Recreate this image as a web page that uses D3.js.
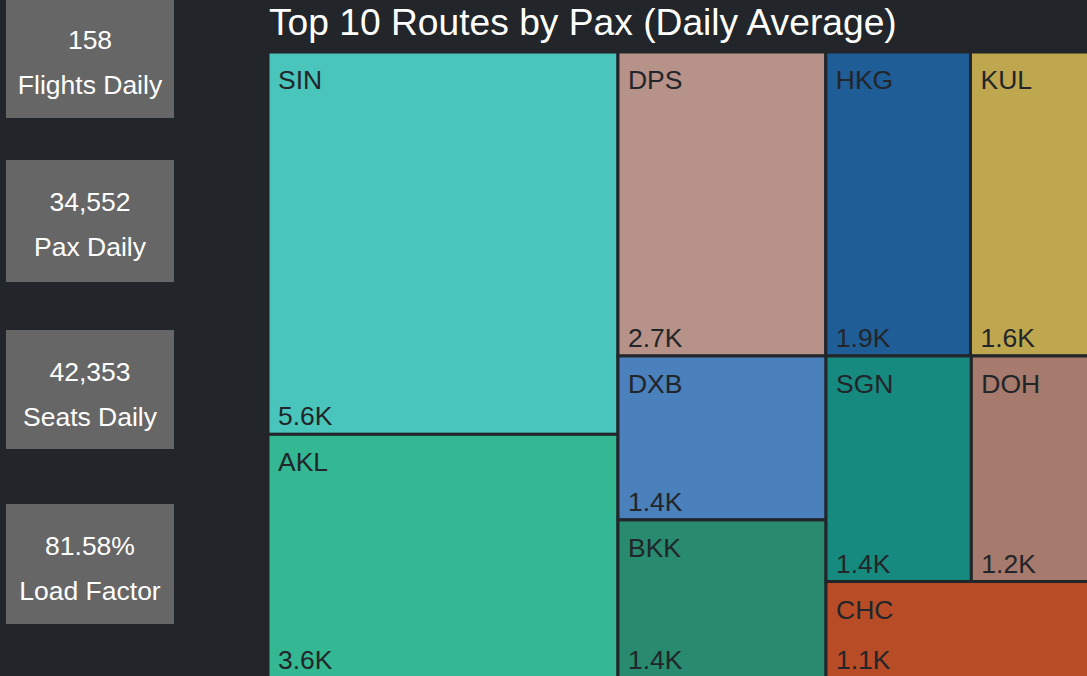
<!DOCTYPE html>
<html>
<head>
<meta charset="utf-8">
<script src="https://cdn.jsdelivr.net/npm/d3@7"></script>
<style>
  html, body { margin: 0; padding: 0; background: #222529; overflow: hidden; }
  svg { display: block; }
  text { font-family: "Liberation Sans", Arial, sans-serif; }
</style>
</head>
<body>
<svg id="chart" width="1087" height="676"></svg>
<script>
// ---- data ----
const routes = ["SIN", "AKL", "DPS", "HKG", "KUL", "DXB", "BKK", "SGN", "DOH", "CHC"];
const paxDaily = [5634, 3591, 2660, 1852, 1632, 1436, 1385, 1380, 1203, 1105];
const routeColors = ["#49C5BB", "#34B893", "#B79288", "#1F5D96", "#BFA750",
                     "#4A80BB", "#288A6E", "#178A80", "#A67A6C", "#B84C26"];
const kpiValues = ["158", "34,552", "42,353", "81.58%"];
const kpiLabels = ["Flights Daily", "Pax Daily", "Seats Daily", "Load Factor"];
const title = "Top 10 Routes by Pax (Daily Average)";

// ---- layout ----
const kpiTops = [-2, 160, 330, 504];
const kpiHeights = [120, 122, 119, 120];
const tm = { x: 268, y: 52, w: 830, h: 626 };

const svg = d3.select("#chart");
const bg = "#222529";

svg.append("rect").attr("width", 1087).attr("height", 676).attr("fill", bg);

// KPI boxes
const kpi = svg.append("g").selectAll("g")
  .data(kpiValues.map((v, i) => ({ v, l: kpiLabels[i], top: kpiTops[i], h: kpiHeights[i] })))
  .join("g")
  .attr("transform", d => `translate(6,${d.top})`);
kpi.append("rect").attr("width", 168).attr("height", d => d.h).attr("fill", "#666666");
kpi.append("text").attr("x", 84).attr("y", 51).attr("text-anchor", "middle")
  .attr("fill", "#ffffff").attr("font-size", 26.5).text(d => d.v);
kpi.append("text").attr("x", 84).attr("y", 96).attr("text-anchor", "middle")
  .attr("fill", "#ffffff").attr("font-size", 26.5).text(d => d.l);

// Title
svg.append("text").attr("x", 269).attr("y", 35).attr("fill", "#ffffff")
  .attr("font-size", 37.2).text(title);

// Treemap
const root = d3.hierarchy({ children: routes.map((r, i) => ({ name: r, value: paxDaily[i], color: routeColors[i] })) })
  .sum(d => d.value || 0)
  .sort((a, b) => b.value - a.value);

d3.treemap().size([tm.w, tm.h]).tile(d3.treemapSquarify)(root);

const fmt = v => d3.format(".2s")(v).replace("k", "K");

const g = svg.append("g").attr("transform", `translate(${tm.x},${tm.y})`);
const cell = g.selectAll("g").data(root.leaves()).join("g");
cell.append("rect")
  .attr("x", d => d.x0).attr("y", d => d.y0)
  .attr("width", d => d.x1 - d.x0).attr("height", d => d.y1 - d.y0)
  .attr("fill", d => d.data.color)
  .attr("stroke", bg).attr("stroke-width", 3);
cell.append("text")
  .attr("x", d => d.x0 + 10).attr("y", d => d.y0 + 37)
  .attr("fill", "#222529").attr("font-size", 26.5).text(d => d.data.name);
cell.append("text")
  .attr("x", d => d.x0 + 10).attr("y", d => d.y1 - 9)
  .attr("fill", "#222529").attr("font-size", 26.5).text(d => fmt(d.value));
</script>
</body>
</html>
